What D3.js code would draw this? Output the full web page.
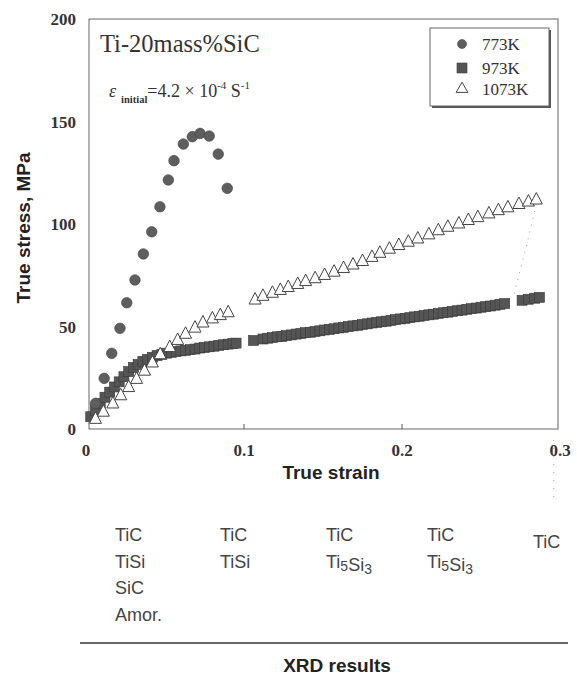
<!DOCTYPE html>
<html>
<head>
<meta charset="utf-8">
<script src="https://cdn.jsdelivr.net/npm/d3@7/dist/d3.min.js"></script>
<style>
  body { margin: 0; background: #fff; }
  svg { display: block; }
</style>
</head>
<body>
<div id="chart"></div>
<script>
// 773K, filled circles
var strain773 = [0.006, 0.0115, 0.0163, 0.0215, 0.0258, 0.031, 0.0363, 0.0416, 0.0468, 0.0521, 0.0557,
                 0.0616, 0.0673, 0.0722, 0.078, 0.0837, 0.0894];
var stress773 = [12.5, 24.7, 36.9, 49.1, 61.6, 72.7, 85.4, 96.2, 108.4, 121.5, 130.9,
                 139, 142.6, 144.2, 142.9, 134.1, 117.4];

// 973K, filled squares (dense band)
var strain973 = [0.003, 0.006, 0.009, 0.012, 0.015, 0.018, 0.021, 0.024, 0.027, 0.030,
                 0.033, 0.036, 0.039, 0.042, 0.045, 0.048, 0.051, 0.054, 0.057, 0.060,
                 0.063, 0.066, 0.069, 0.072, 0.075, 0.078, 0.081, 0.084, 0.087, 0.090,
                 0.093, 0.095, 0.106, 0.112, 0.115, 0.118, 0.121, 0.124, 0.127, 0.130,
                 0.133, 0.136, 0.139, 0.142, 0.145, 0.148, 0.151, 0.154, 0.157, 0.160,
                 0.163, 0.166, 0.169, 0.172, 0.175, 0.178, 0.181, 0.184, 0.187, 0.190,
                 0.193, 0.196, 0.199, 0.202, 0.205, 0.208, 0.211, 0.214, 0.217, 0.220,
                 0.223, 0.226, 0.229, 0.232, 0.235, 0.238, 0.241, 0.244, 0.247, 0.250,
                 0.253, 0.256, 0.259, 0.262, 0.265, 0.276, 0.280, 0.284, 0.287];
var stress973 = [6, 9, 12.5, 15.5, 18, 20.5, 23, 25.5, 28, 30,
                 31.5, 33, 34, 35, 35.8, 36.4, 37, 37.4, 37.8, 38.1,
                 38.4, 38.7, 39, 39.5, 39.8, 40.1, 40.4, 40.8, 41.1, 41.4,
                 41.7, 41.9, 43.2, 43.9, 44.3, 44.6, 45, 45.2, 45.6, 45.9,
                 46.3, 46.6, 47, 47.2, 47.6, 47.9, 48.3, 48.6, 48.9, 49.3,
                 49.6, 50, 50.3, 50.6, 51, 51.3, 51.7, 52, 52.3, 52.6,
                 53, 53.4, 53.7, 54, 54.3, 54.7, 55, 55.4, 55.7, 56,
                 56.4, 56.7, 57, 57.4, 57.7, 58, 58.4, 58.7, 59, 59.4,
                 59.7, 60, 60.4, 60.8, 61.2, 62.8, 63.3, 63.8, 64.2];

// 1073K, open triangles
var strain1073 = [0.006, 0.011, 0.017, 0.022, 0.027, 0.032, 0.037, 0.042, 0.047, 0.053,
                  0.058, 0.063, 0.069, 0.074, 0.080, 0.085, 0.090,
                  0.107, 0.112, 0.118, 0.123, 0.128, 0.134, 0.139, 0.145, 0.151, 0.157,
                  0.163, 0.169, 0.175, 0.181, 0.186, 0.192, 0.198, 0.204, 0.210, 0.217,
                  0.223, 0.229, 0.236, 0.242, 0.248, 0.255, 0.261, 0.267, 0.274, 0.280, 0.285];
var stress1073 = [5, 8.5, 12.5, 16.5, 20.5, 24.5, 28.5, 32.5, 36.5, 40,
                  43.5, 46.5, 49.5, 52, 54, 55.6, 57,
                  63.2, 65, 66.5, 67.9, 69.3, 70.8, 72.2, 73.6, 75.2, 76.8,
                  78.6, 80.3, 82, 84, 86, 88, 89.8, 91.4, 93, 95,
                  97, 98.7, 100.3, 102, 103.4, 105.2, 106.8, 108.2, 109.8, 111, 112];

var seriesNames = ["773K", "973K", "1073K"];
var xTicks = [0, 0.1, 0.2, 0.3];
var xTickLabels = ["0", "0.1", "0.2", "0.3"];
var yTicks = [0, 50, 100, 150, 200];

// XRD phases found along the strain axis
var xrdColumns = [["TiC", "TiSi", "SiC", "Amor."],
                  ["TiC", "TiSi"],
                  ["TiC", "Ti5Si3"],
                  ["TiC", "Ti5Si3"],
                  ["TiC"]];

var W = 577, H = 675;
var serif = "'Liberation Serif', 'Times New Roman', serif";
var sans = "'Liberation Sans', Arial, sans-serif";

var svg = d3.select("#chart").append("svg")
  .attr("width", W)
  .attr("height", H);

var x = d3.scaleLinear().domain([0, 0.3]).range([86, 560]);
var y = d3.scaleLinear().domain([0, 200]).range([429, 19]);

// frame
svg.append("rect")
  .attr("x", 89).attr("y", y(200))
  .attr("width", 558 - 89).attr("height", y(0) - y(200))
  .style("fill", "none")
  .style("stroke", "#666")
  .style("stroke-width", 1);

// small inward ticks on the strain axis
svg.selectAll(".xtick")
  .data([0.1, 0.2])
  .enter().append("line")
  .attr("x1", function(d){ return x(d); })
  .attr("x2", function(d){ return x(d); })
  .attr("y1", y(0))
  .attr("y2", y(0) - 5)
  .style("stroke", "#555");

// tick labels
svg.selectAll(".ylab")
  .data(yTicks)
  .enter().append("text")
  .attr("x", 76)
  .attr("y", function(d){ return y(d) + 6; })
  .attr("text-anchor", "end")
  .style("font-family", serif)
  .style("font-weight", "bold")
  .style("font-size", "17px")
  .style("fill", "#333")
  .text(function(d){ return d; });

svg.selectAll(".xlab")
  .data(xTicks)
  .enter().append("text")
  .attr("x", function(d){ return x(d); })
  .attr("y", 456)
  .attr("text-anchor", "middle")
  .style("font-family", serif)
  .style("font-weight", "bold")
  .style("font-size", "17px")
  .style("fill", "#333")
  .text(function(d, i){ return xTickLabels[i]; });

// axis titles
svg.append("text")
  .attr("transform", "translate(30,228) rotate(-90)")
  .attr("text-anchor", "middle")
  .style("font-family", sans)
  .style("font-weight", "bold")
  .style("font-size", "19px")
  .style("fill", "#222")
  .text("True stress, MPa");

svg.append("text")
  .attr("x", 331).attr("y", 479)
  .attr("text-anchor", "middle")
  .style("font-family", sans)
  .style("font-weight", "bold")
  .style("font-size", "19px")
  .style("fill", "#222")
  .text("True strain");

// title and strain rate
svg.append("text")
  .attr("x", 100).attr("y", 52)
  .style("font-family", serif)
  .style("font-size", "24.5px")
  .style("fill", "#333")
  .text("Ti-20mass%SiC");

var rate = svg.append("text")
  .attr("x", 109).attr("y", 97)
  .style("font-family", serif)
  .style("font-size", "18px")
  .style("fill", "#333");
rate.append("tspan").style("font-style", "italic").text("ε");
rate.append("tspan").attr("dx", 5).attr("dy", 6)
  .style("font-size", "10.5px").style("font-weight", "bold").text("initial");
rate.append("tspan").attr("dy", -6).text("=4.2 × 10");
rate.append("tspan").attr("dy", -8).style("font-size", "11px").text("-4");
rate.append("tspan").attr("dy", 8).text(" S");
rate.append("tspan").attr("dy", -8).style("font-size", "11px").text("-1");

// dotted guide from the end of the curves
svg.append("path")
  .attr("d", d3.line()([[x(0.286), y(113)], [x(0.279), y(90)], [x(0.271), y(66)]]))
  .style("fill", "none")
  .style("stroke", "#999")
  .style("stroke-dasharray", "1,6");

svg.append("line")
  .attr("x1", x(0.296)).attr("x2", x(0.296))
  .attr("y1", 440).attr("y2", 500)
  .style("stroke", "#aaa")
  .style("stroke-dasharray", "1,7");

// data marks
var pts973 = strain973.map(function(s, i){ return [s, stress973[i]]; });
var pts1073 = strain1073.map(function(s, i){ return [s, stress1073[i]]; });
var pts773 = strain773.map(function(s, i){ return [s, stress773[i]]; });

var sq = 10;
svg.selectAll(".sq")
  .data(pts973)
  .enter().append("rect")
  .attr("x", function(d){ return x(d[0]) - sq / 2; })
  .attr("y", function(d){ return y(d[1]) - sq / 2; })
  .attr("width", sq).attr("height", sq)
  .style("fill", "#555")
  .style("stroke", "#3a3a3a")
  .style("stroke-width", 0.6);

// open triangle, a little taller than equilateral
var peak = {
  draw: function(ctx, size){
    var h = Math.sqrt(size) * 1.05, w = Math.sqrt(size) * 0.55;
    ctx.moveTo(0, -h * 0.6);
    ctx.lineTo(w, h * 0.4);
    ctx.lineTo(-w, h * 0.4);
    ctx.closePath();
  }
};
var tri = d3.symbol().type(peak).size(120);
svg.selectAll(".tri")
  .data(pts1073)
  .enter().append("path")
  .attr("d", tri)
  .attr("transform", function(d){ return "translate(" + x(d[0]) + "," + y(d[1]) + ")"; })
  .style("fill", "#fff")
  .style("stroke", "#444")
  .style("stroke-width", 1);

svg.selectAll(".dot")
  .data(pts773)
  .enter().append("circle")
  .attr("cx", function(d){ return x(d[0]); })
  .attr("cy", function(d){ return y(d[1]); })
  .attr("r", 5.3)
  .style("fill", "#5e5e5e")
  .style("stroke", "#444")
  .style("stroke-width", 0.6);

// legend
var lg = svg.append("g");
lg.append("rect")
  .attr("x", 432).attr("y", 30).attr("width", 119).attr("height", 78)
  .style("fill", "#555");
lg.append("rect")
  .attr("x", 430).attr("y", 28).attr("width", 119).attr("height", 78)
  .style("fill", "#fff")
  .style("stroke", "#666")
  .style("stroke-width", 1);

var legY = [44, 68, 89];
var legTri = d3.symbol().type(d3.symbolTriangle).size(60);
seriesNames.forEach(function(name, i){
  var cy = legY[i];
  if (i === 0) {
    lg.append("circle").attr("cx", 462).attr("cy", cy).attr("r", 4.5)
      .style("fill", "#5e5e5e").style("stroke", "#444").style("stroke-width", 0.6);
  } else if (i === 1) {
    lg.append("rect").attr("x", 457).attr("y", cy - 5).attr("width", 10).attr("height", 10)
      .style("fill", "#555").style("stroke", "#3a3a3a").style("stroke-width", 0.6);
  } else {
    lg.append("path").attr("d", legTri).attr("transform", "translate(462," + cy + ")")
      .style("fill", "#fff").style("stroke", "#444");
  }
  lg.append("text")
    .attr("x", 482).attr("y", cy + 6)
    .style("font-family", serif)
    .style("font-size", "17px")
    .style("fill", "#333")
    .text(name);
});

// XRD table
var colX = [115, 220, 326, 427, 533];
var rowY = [541, 568, 594, 621];

function phase(sel, label){
  // digits are drawn as subscripts
  var parts = label.match(/\d+|\D+/g);
  parts.forEach(function(p){
    if (/\d/.test(p)) {
      sel.append("tspan").attr("dy", 3).style("font-size", "14px").text(p);
      sel.append("tspan").attr("dy", -3).text("");
    } else {
      sel.append("tspan").text(p);
    }
  });
}

xrdColumns.forEach(function(col, c){
  col.forEach(function(label, r){
    var t = svg.append("text")
      .attr("x", colX[c])
      .attr("y", c === 4 ? 548 : rowY[r])
      .style("font-family", sans)
      .style("font-size", "18px")
      .style("fill", "#444");
    phase(t, label);
  });
});

svg.append("line")
  .attr("x1", 80).attr("x2", 568)
  .attr("y1", 643).attr("y2", 643)
  .style("stroke", "#333")
  .style("stroke-width", 1.5);

svg.append("text")
  .attr("x", 337).attr("y", 672)
  .attr("text-anchor", "middle")
  .style("font-family", sans)
  .style("font-weight", "bold")
  .style("font-size", "19px")
  .style("fill", "#222")
  .text("XRD results");
</script>
</body>
</html>
